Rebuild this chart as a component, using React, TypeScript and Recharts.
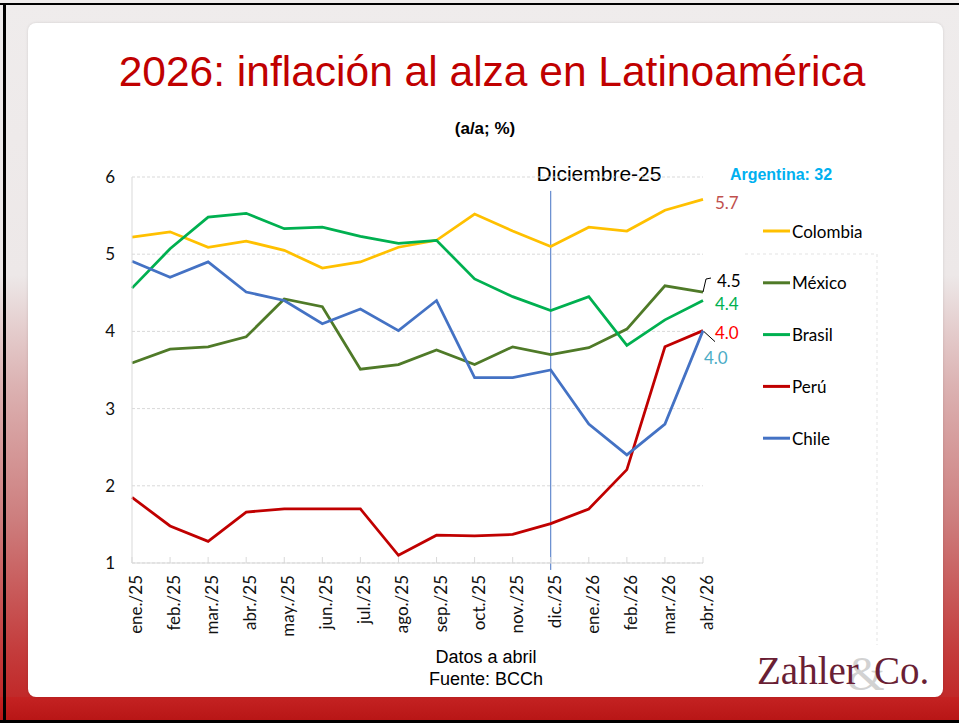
import React from 'react';
import { LineChart, Line, XAxis, YAxis, CartesianGrid, ReferenceLine, LabelList } from 'recharts';

const months = ['ene./25','feb./25','mar./25','abr./25','may./25','jun./25','jul./25','ago./25','sep./25','oct./25','nov./25','dic./25','ene./26','feb./26','mar./26','abr./26'];
const colombia = [5.22,5.29,5.09,5.17,5.05,4.82,4.90,5.09,5.18,5.52,5.30,5.10,5.35,5.30,5.57,5.71];
const mexico = [3.59,3.77,3.80,3.93,4.42,4.32,3.51,3.57,3.76,3.57,3.80,3.70,3.79,4.03,4.59,4.51];
const brasil = [4.56,5.07,5.48,5.53,5.33,5.35,5.23,5.14,5.18,4.68,4.45,4.27,4.45,3.82,4.15,4.40];
const peru = [1.85,1.48,1.28,1.66,1.70,1.70,1.70,1.10,1.36,1.35,1.37,1.51,1.70,2.21,3.80,4.01];
const chile = [4.91,4.70,4.90,4.51,4.40,4.10,4.29,4.01,4.40,3.40,3.40,3.50,2.80,2.40,2.80,4.01];
const yTicks = [1,2,3,4,5,6];
const endLabels = ['5.7','4.5','4.4','4.0','4.0'];

const data = months.map((m, i) => ({
  month: m,
  Colombia: colombia[i],
  'México': mexico[i],
  Brasil: brasil[i],
  'Perú': peru[i],
  Chile: chile[i],
}));

const series = [
  { key: 'Colombia', color: '#ffc000', label: endLabels[0], labelColor: '#c0504d', dx: 12, dy: 3, leader: null },
  { key: 'México', color: '#4f7a28', label: endLabels[1], labelColor: '#000000', dx: 14, dy: -12, leader: 'mx' },
  { key: 'Brasil', color: '#00b050', label: endLabels[2], labelColor: '#00b050', dx: 12, dy: 3, leader: null },
  { key: 'Perú', color: '#c00000', label: endLabels[3], labelColor: '#ff0000', dx: 12, dy: 2, leader: null },
  { key: 'Chile', color: '#4472c4', label: endLabels[4], labelColor: '#4bacc6', dx: 1, dy: 27, leader: 'cl' },
];

const LAST = months.length - 1;
const FONT_C = 'Lato, "Open Sans", sans-serif';
const FONT_A = '"Liberation Sans", Arial, sans-serif';
const FONT_S = '"Liberation Serif", "DejaVu Serif", serif';

const makeEndLabel = (s: any) => (props: any) => {
  const { x, y, index } = props;
  if (index !== LAST) return null;
  return (
    <g>
      {s.leader === 'mx' && (
        <polyline points={`${x},${y} ${x + 3},${y - 13} ${x + 8},${y - 14}`} fill="none" stroke="#000" strokeWidth={1} />
      )}
      {s.leader === 'cl' && (
        <line x1={x + 1} y1={y + 1} x2={x + 12} y2={y + 11} stroke="#000" strokeWidth={1} />
      )}
      <text x={x + s.dx} y={y + s.dy} dominantBaseline="central" fontFamily={FONT_C} fontSize={17} fill={s.labelColor}>
        {s.label}
      </text>
    </g>
  );
};

const XTick = (props: any) => {
  const { x, y, payload } = props;
  return (
    <g>
      <line x1={x} x2={x} y1={y - 6} y2={y} stroke="#d9d9d9" strokeWidth={1} />
      <text transform={`translate(${x + 10},${y + 12}) rotate(-90)`} textAnchor="end" fontFamily={FONT_C} fontSize={17} fill="#111">
        {payload.value}
      </text>
    </g>
  );
};

const LegendBlock = () => (
  <svg width={130} height={240} style={{ position: 'absolute', left: 763, top: 218 }}>
    {series.map((s, i) => {
      const cy = 13 + i * 51.8;
      return (
        <g key={s.key}>
          <line x1={0} x2={27} y1={cy} y2={cy} stroke={s.color} strokeWidth={3} />
          <text x={29} y={cy} dominantBaseline="central" fontFamily={FONT_C} fontSize={17} fill="#000">{s.key}</text>
        </g>
      );
    })}
  </svg>
);

export default function App() {
  return (
    <div style={{ position: 'absolute', left: 0, top: 0, width: 959, height: 723, overflow: 'hidden',
      background: 'linear-gradient(to bottom, #efecec 0%, #ede8e8 38%, #dcb3b3 53%, #cd7d7d 72%, #c43c3c 90%, #bf1f1f 100%)' }}>
      <div style={{ position: 'absolute', left: 0, top: 697, width: 959, height: 23, background: 'linear-gradient(to bottom, #c42222, #b81616)' }} />
      <div style={{ position: 'absolute', left: 0, top: 3, width: 959, height: 2, background: '#000' }} />
      <div style={{ position: 'absolute', left: 3, top: 3, width: 3, height: 720, background: '#000' }} />
      <div style={{ position: 'absolute', left: 0, top: 720, width: 959, height: 3, background: '#000' }} />
      <div style={{ position: 'absolute', left: 28, top: 23, width: 915, height: 674, background: '#fff', borderRadius: 8,
        boxShadow: '0 0 3px rgba(0,0,0,0.12)' }} />
      <svg width={959} height={723} style={{ position: 'absolute', left: 0, top: 0 }}>
        <text x={492} y={86} textAnchor="middle" fontFamily={FONT_A} fontSize={42.5} fill="#c00000">2026: inflación al alza en Latinoamérica</text>
        <text x={485} y={134} textAnchor="middle" fontFamily={FONT_A} fontSize={17} fontWeight="bold" fill="#000">(a/a; %)</text>
        <text x={599} y={181} textAnchor="middle" fontFamily={FONT_A} fontSize={21} fill="#000">Diciembre-25</text>
        <text x={781} y={180} textAnchor="middle" fontFamily={FONT_A} fontSize={16} fontWeight="bold" fill="#00b0f0">Argentina: 32</text>
        <text x={486} y={663} textAnchor="middle" fontFamily={FONT_A} fontSize={18} fill="#000">Datos a abril</text>
        <text x={486} y={685} textAnchor="middle" fontFamily={FONT_A} fontSize={18} fill="#000">Fuente: BCCh</text>
        <line x1={745} x2={877} y1={254} y2={254} stroke="#e3e3e3" strokeDasharray="3 3" />
        <line x1={877} x2={877} y1={254} y2={645} stroke="#e3e3e3" strokeDasharray="3 3" />
        <text x={866} y={690} textAnchor="middle" fontFamily={FONT_S} fontSize={48} fill="#d2d2d2">&amp;</text>
        <text x={757} y={684} fontFamily={FONT_S} fontSize={39} fill="#6a1f35">Zahler</text>
        <text x={874} y={684} fontFamily={FONT_S} fontSize={39} fill="#6a1f35">Co.</text>
      </svg>
      <LegendBlock />
      <div style={{ position: 'absolute', left: 0, top: 0 }}>
        <LineChart width={959} height={723} data={data} margin={{ top: 177, right: 256, bottom: 80, left: 92 }}>
          <CartesianGrid horizontal={true} vertical={false} stroke="#d9d9d9" strokeDasharray="3 2" />
          <XAxis dataKey="month" height={80} interval={0} tick={<XTick />} tickSize={0} tickMargin={0}
            axisLine={{ stroke: '#d9d9d9' }} tickLine={false} />
          <YAxis width={40} domain={[1, 6]} ticks={yTicks} type="number" tickLine={false} tickSize={0} tickMargin={17}
            axisLine={{ stroke: '#d9d9d9' }} tick={{ fontFamily: FONT_C, fontSize: 17, fill: '#111' }} />
          <ReferenceLine segment={[{ x: 'dic./25', y: 5.82 }, { x: 'dic./25', y: 0.91 }]} ifOverflow="visible" stroke="#4472c4" strokeWidth={1} />
          {series.map((s) => (
            <Line key={s.key} type="linear" dataKey={s.key} stroke={s.color} strokeWidth={2.75} dot={false}
              activeDot={false} isAnimationActive={false}>
              <LabelList dataKey={s.key} content={makeEndLabel(s)} />
            </Line>
          ))}
        </LineChart>
      </div>
    </div>
  );
}
